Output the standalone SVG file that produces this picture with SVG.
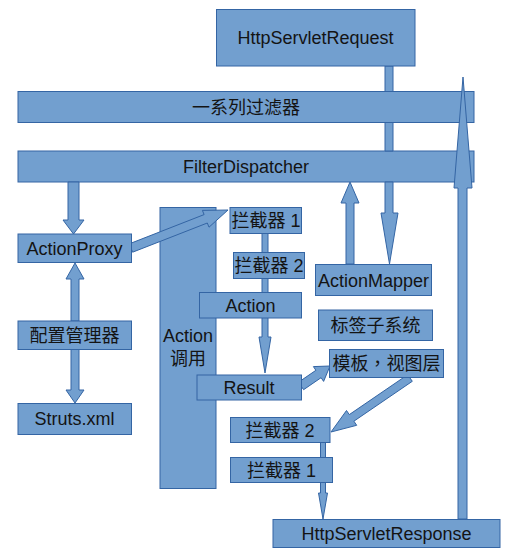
<svg xmlns="http://www.w3.org/2000/svg" width="508" height="557" viewBox="0 0 508 557">
<style>
.box{fill:#729fcf;stroke:#3465a4;stroke-width:1}
.arr{fill:#729fcf;stroke:#3465a4;stroke-width:1;stroke-linejoin:miter}
text{font-family:"Liberation Sans","Noto Sans CJK SC",sans-serif;font-size:18px;fill:#141414;text-anchor:middle}
.tc{font-family:"Noto Sans CJK TC",sans-serif}
</style>
<rect width="508" height="557" fill="#ffffff"/>
<g id="action-call"><rect class="box" x="160" y="207.5" width="56" height="281"/><text x="188" y="342">Action</text><text x="188" y="365">调用</text></g>
<g id="filters"><rect class="box" x="18" y="91.5" width="456" height="31"/><text x="246" y="113.5">一系列过滤器</text></g>
<g id="filter-dispatcher"><rect class="box" x="18" y="151" width="456" height="31"/><text x="246" y="172.5">FilterDispatcher</text></g>
<g id="connectors">
<polygon class="arr" points="385,66 385,91.5 393,91.5 393,66"/>
<polygon class="arr" points="385,122.5 385,151 393,151 393,122.5"/>
<polygon class="arr" points="385,182 385,213 381,213 389.5,264 398,213 393,213 393,182"/>
<polygon class="arr" points="458,519 458,188 454,188 463,77 472,188 467,188 467,519"/>
<polygon class="arr" points="68,182 68,220 63,220 73.5,234 84,220 79,220 79,182"/>
<polygon class="arr" points="71,321 71,279 66,279 75,263 84,279 79,279 79,321"/>
<polygon class="arr" points="71,349 71,390 66,390 75,403 84,390 79,390 79,349"/>
<polygon class="arr" points="129.4,243.8 204.1,214.6 202.4,210.4 228,210 209,227.2 207.3,223 132.6,252.2"/>
<polygon class="arr" points="262,233 262,337 259,337 265,373 271,337 268,337 268,233"/>
<polygon class="arr" points="346,264 346,203 341,203 350,182 359,203 354,203 354,264"/>
<polygon class="arr" points="298.4,382.3 315.9,370.3 313.4,366.6 330,366 323.6,381.4 321.1,377.7 303.6,389.7"/>
<polygon class="arr" points="407.7,374.7 349.3,414.6 346.5,410.5 331,432 356.7,425.3 353.9,421.2 412.3,381.3"/>
<polygon class="arr" points="320.5,442 320.5,493 318.5,493 323,519 327.5,493 325.5,493 325.5,442"/>
</g>
<g id="request"><rect class="box" x="216.5" y="9.5" width="198.5" height="56.5"/><text x="315.5" y="44">HttpServletRequest</text></g>
<g id="action-proxy"><rect class="box" x="18" y="234" width="113.5" height="28.5"/><text x="74.5" y="254.5">ActionProxy</text></g>
<g id="config-manager"><rect class="box" x="18" y="321" width="113.5" height="28.5"/><text x="74.5" y="341.5">配置管理器</text></g>
<g id="struts-xml"><rect class="box" x="18" y="403.5" width="113.5" height="31"/><text x="74.5" y="425">Struts.xml</text></g>
<g id="interceptor1-top"><rect class="box" x="230" y="207.5" width="71.5" height="26"/><text x="266" y="227">拦截器 1</text></g>
<g id="interceptor2-top"><rect class="box" x="233.5" y="252.5" width="71" height="26"/><text x="269" y="272">拦截器 2</text></g>
<g id="action"><rect class="box" x="199.5" y="292.5" width="102" height="25.5"/><text x="250.5" y="311.5">Action</text></g>
<g id="result"><rect class="box" x="197" y="375" width="104.5" height="25"/><text x="249" y="394">Result</text></g>
<g id="action-mapper"><rect class="box" x="315.5" y="264.5" width="116" height="31"/><text x="373.5" y="286.5">ActionMapper</text></g>
<g id="tag-subsystem"><rect class="box" x="318.5" y="310" width="114" height="30.5"/><text x="375.5" y="331.5">标签子系统</text></g>
<g id="template-view"><rect class="box" x="329.5" y="349.5" width="114" height="28"/><text x="386.5" y="369.5">模板<tspan class="tc">，</tspan>视图层</text></g>
<g id="interceptor2-bottom"><rect class="box" x="230.5" y="417.5" width="99.5" height="25"/><text x="280" y="436.5">拦截器 2</text></g>
<g id="interceptor1-bottom"><rect class="box" x="230.5" y="457.5" width="102" height="25"/><text x="281.5" y="476.5">拦截器 1</text></g>
<g id="response"><rect class="box" x="273" y="519.5" width="227" height="28"/><text x="386.5" y="540">HttpServletResponse</text></g>
</svg>
